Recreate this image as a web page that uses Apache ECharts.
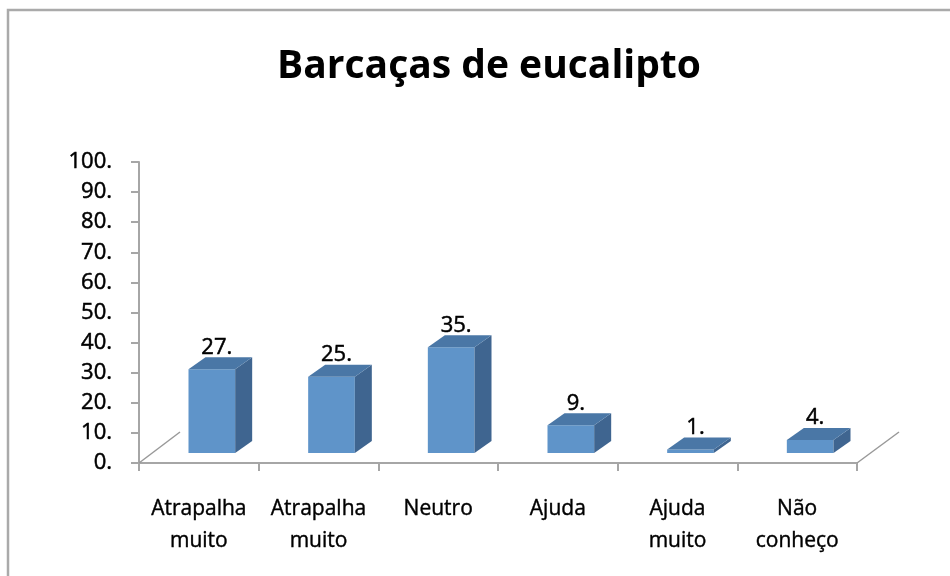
<!DOCTYPE html>
<html>
<head>
<meta charset="utf-8">
<script src="https://cdn.jsdelivr.net/npm/echarts@6/dist/echarts.min.js"></script>
<style>
  html, body { margin: 0; padding: 0; background: #fff; }
  #chart { width: 950px; height: 576px; }
</style>
</head>
<body>
<div id="chart"></div>
<script>
// categorias e valores
const categories = ['Atrapalha\nmuito', 'Atrapalha\nmuito', 'Neutro', 'Ajuda', 'Ajuda\nmuito', 'Não\nconheço'];
const values = [27.8, 25.3, 35.1, 9.2, 1.2, 4.3];
const yMin = 0;
const yMax = 100;
const yStep = 10;

const FONT = '"Open Sans", "Liberation Sans", sans-serif';
const AXIS_GRAY = '#a6a6a6';

var myChart = echarts.init(document.getElementById('chart'));

// barra "3D": frente, lateral e topo
function renderBar(params, api) {
  const i = api.value(0);
  const v = api.value(1);
  const base = api.coord([i, 0]);
  const top = api.coord([i, v]);
  const band = api.size([1, 0])[0];
  const w = band * 0.39;
  const x0 = base[0] - w / 2 + 13;
  const yb = base[1] - 10;
  const yt = top[1] - 10;
  const dx = 17, dy = -12;
  return {
    type: 'group',
    children: [
      { type: 'polygon', shape: { points: [[x0, yt], [x0 + w, yt], [x0 + w, yb], [x0, yb]] }, style: { fill: '#5f94c9' } },
      { type: 'polygon', shape: { points: [[x0 + w, yt], [x0 + w + dx, yt + dy], [x0 + w + dx, yb + dy], [x0 + w, yb]] }, style: { fill: '#3f6590' } },
      { type: 'polygon', shape: { points: [[x0, yt], [x0 + w, yt], [x0 + w + dx, yt + dy], [x0 + dx, yt + dy]] }, style: { fill: '#4a77a6' } },
      {
        type: 'text',
        x: x0 + w / 2 + 5,
        y: yt + dy + 1,
        style: {
          text: Math.floor(v) + '.',
          fill: '#000',
          font: '22px ' + FONT,
          stroke: '#000',
          lineWidth: 0.5,
          textAlign: 'center',
          textVerticalAlign: 'bottom',
          align: 'center',
          verticalAlign: 'bottom'
        }
      }
    ]
  };
}

// chão: linhas diagonais nas extremidades
function renderFloor(params, api) {
  const cs = params.coordSys;
  const yb = cs.y + cs.height;
  const style = { stroke: '#999', lineWidth: 1.5 };
  return {
    type: 'group',
    children: [
      { type: 'line', shape: { x1: cs.x, y1: yb, x2: cs.x + 41, y2: yb - 31 }, style: style },
      { type: 'line', shape: { x1: cs.x + cs.width, y1: yb, x2: cs.x + cs.width + 42, y2: yb - 31 }, style: style }
    ]
  };
}

let option = {
  animation: false,
  title: {
    text: 'Barcaças de eucalipto',
    left: 484,
    top: 42,
    textAlign: 'center',
    textStyle: {
      fontFamily: FONT,
      fontWeight: 'bold',
      fontSize: 39,
      color: '#000'
    }
  },
  graphic: [
    {
      type: 'rect',
      shape: { x: 8, y: 10, width: 1000, height: 700 },
      style: { fill: 'none', stroke: '#aaaaaa', lineWidth: 2.5 },
      silent: true
    }
  ],
  grid: {
    left: 139,
    top: 162,
    width: 718,
    height: 301
  },
  xAxis: {
    type: 'category',
    data: categories,
    axisLine: { lineStyle: { color: AXIS_GRAY, width: 2 } },
    axisTick: { show: true, interval: 0, length: 8, lineStyle: { color: AXIS_GRAY, width: 2 } },
    axisLabel: {
      interval: 0,
      margin: 30,
      color: '#000',
      fontFamily: FONT,
      fontSize: 21,
      lineHeight: 32,
      textBorderColor: '#000',
      textBorderWidth: 0.4
    },
    splitLine: { show: false }
  },
  yAxis: {
    type: 'value',
    min: yMin,
    max: yMax,
    interval: yStep,
    axisLine: { show: true, lineStyle: { color: AXIS_GRAY, width: 2 } },
    axisTick: { show: true, length: 8, lineStyle: { color: AXIS_GRAY, width: 2 } },
    axisLabel: {
      margin: 27,
      color: '#000',
      fontFamily: FONT,
      fontSize: 22,
      textBorderColor: '#000',
      textBorderWidth: 0.5,
      formatter: function (v) { return v + '.'; }
    },
    splitLine: { show: false }
  },
  series: [
    {
      type: 'custom',
      renderItem: renderFloor,
      data: [[0, 0]],
      clip: false,
      silent: true,
      z: 1
    },
    {
      type: 'custom',
      renderItem: renderBar,
      data: values.map((v, i) => [i, v]),
      encode: { x: 0, y: 1 },
      clip: false,
      z: 2
    }
  ]
};
myChart.setOption(option);
</script>
</body>
</html>
